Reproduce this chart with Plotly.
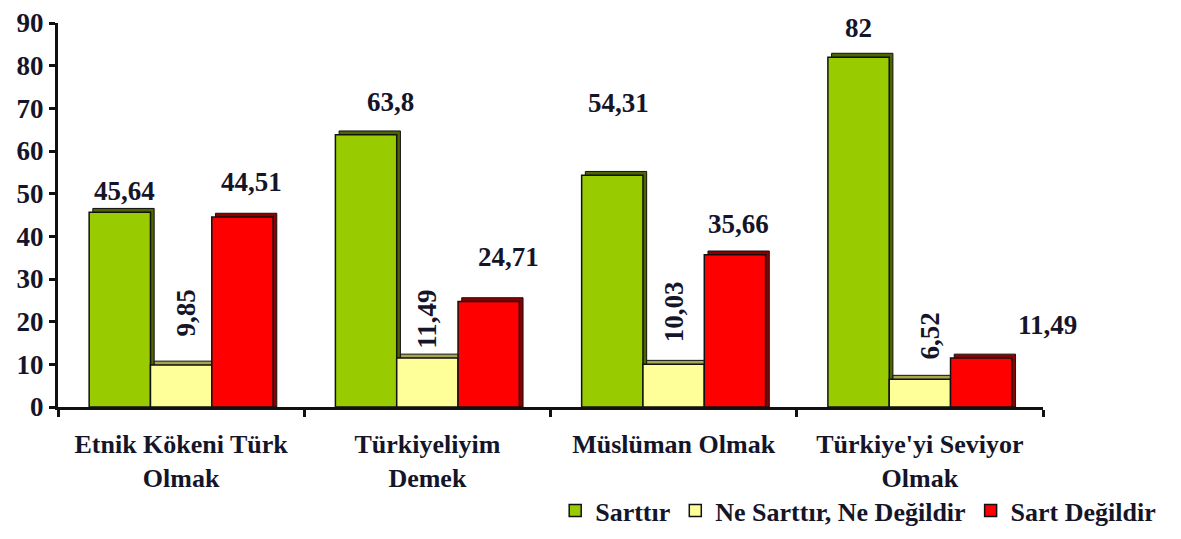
import plotly.graph_objects as go

categories = ["Etnik Kökeni Türk<br>Olmak", "Türkiyeliyim<br>Demek", "Müslüman Olmak", "Türkiye'yi Seviyor<br>Olmak"]
sart = [45.64, 63.8, 54.31, 82]
ne_ne = [9.85, 11.49, 10.03, 6.52]
sart_degil = [44.51, 24.71, 35.66, 11.49]
series_names = ["Sarttır", "Ne Sarttır, Ne Değildir", "Sart Değildir"]
y_ticks = [0, 10, 20, 30, 40, 50, 60, 70, 80, 90]

# ---- styling ----
FONT = "Liberation Serif"
TXT = "#15152a"
FACE = ["#99CC00", "#FFFF99", "#FF0000"]
SIDE = ["#4d6600", "#a6a64d", "#8c0000"]
ANGLE = [0, -90, 0]
# per-label pixel nudges (series x category): (xshift, yshift)
NUDGE = [
    [(5, 4), (24, 16), (6, 55), (0, 12)],
    [(5, 26), (0, 7), (0, 20), (10, 18)],
    [(9, 18), (20, 28), (4, 14), (66, 16)],
]
BARGAP = 0.253
DEPTH_X = 0.015   # category units
DEPTH_Y = 0.9     # value units

def fmt(v):
    return ("%g" % v).replace(".", ",")

series = [sart, ne_ne, sart_degil]
w = (1 - BARGAP) / len(series)
offsets = [-(1 - BARGAP) / 2 + k * w for k in range(len(series))]

fig = go.Figure()
# depth (side/top faces) drawn first
for k, vals in enumerate(series):
    fig.add_trace(go.Bar(
        x=categories, y=[v + DEPTH_Y for v in vals], offset=offsets[k] + DEPTH_X, width=w,
        marker=dict(color=SIDE[k], line=dict(color="#111111", width=1)),
        showlegend=False, hoverinfo="skip"))
# front faces
for k, vals in enumerate(series):
    fig.add_trace(go.Bar(
        name="<b>%s</b>" % series_names[k], x=categories, y=vals, offset=offsets[k], width=w,
        marker=dict(color=FACE[k], line=dict(color="#111111", width=1.5))))

annotations = []
for k, vals in enumerate(series):
    for i, v in enumerate(vals):
        dx, dy = NUDGE[k][i]
        annotations.append(dict(
            x=i + offsets[k] + w / 2, y=v, xref="x", yref="y",
            text="<b>%s</b>" % fmt(v), showarrow=False, textangle=ANGLE[k],
            xanchor="center", yanchor="bottom", xshift=dx, yshift=dy,
            font=dict(family=FONT, size=27, color=TXT)))

fig.update_layout(
    width=1181, height=539,
    margin=dict(l=50, r=146, t=15, b=140, autoexpand=False),
    barmode="overlay",
    plot_bgcolor="white", paper_bgcolor="white",
    font=dict(family=FONT, size=26, color=TXT),
    annotations=annotations,
    showlegend=True,
    legend=dict(orientation="h", x=1.12, xanchor="right", y=-0.27, yanchor="middle",
                font=dict(family=FONT, size=26, color=TXT), traceorder="normal",
                itemwidth=30, tracegroupgap=0),
    xaxis=dict(showline=True, linecolor="#111111", linewidth=3, ticks="outside",
               tickson="boundaries", ticklen=7, tickwidth=3, tickcolor="#111111",
               tickvals=categories, ticktext=["<b>%s</b>" % c for c in categories],
               tickfont=dict(family=FONT, size=26, color=TXT), showgrid=False,
               ticklabelstandoff=12, automargin=False,
               range=[-0.5, len(categories) - 0.5]),
    yaxis=dict(range=[0, 90], tickvals=y_ticks, ticktext=["<b>%d</b>" % t for t in y_ticks],
               showline=True, linecolor="#111111", linewidth=3,
               ticks="outside", ticklen=6, tickwidth=3, tickcolor="#111111",
               ticklabeloverflow="allow", automargin=False,
               tickfont=dict(family=FONT, size=27, color=TXT), showgrid=False, zeroline=False),
)

fig.write_html("out.html")
